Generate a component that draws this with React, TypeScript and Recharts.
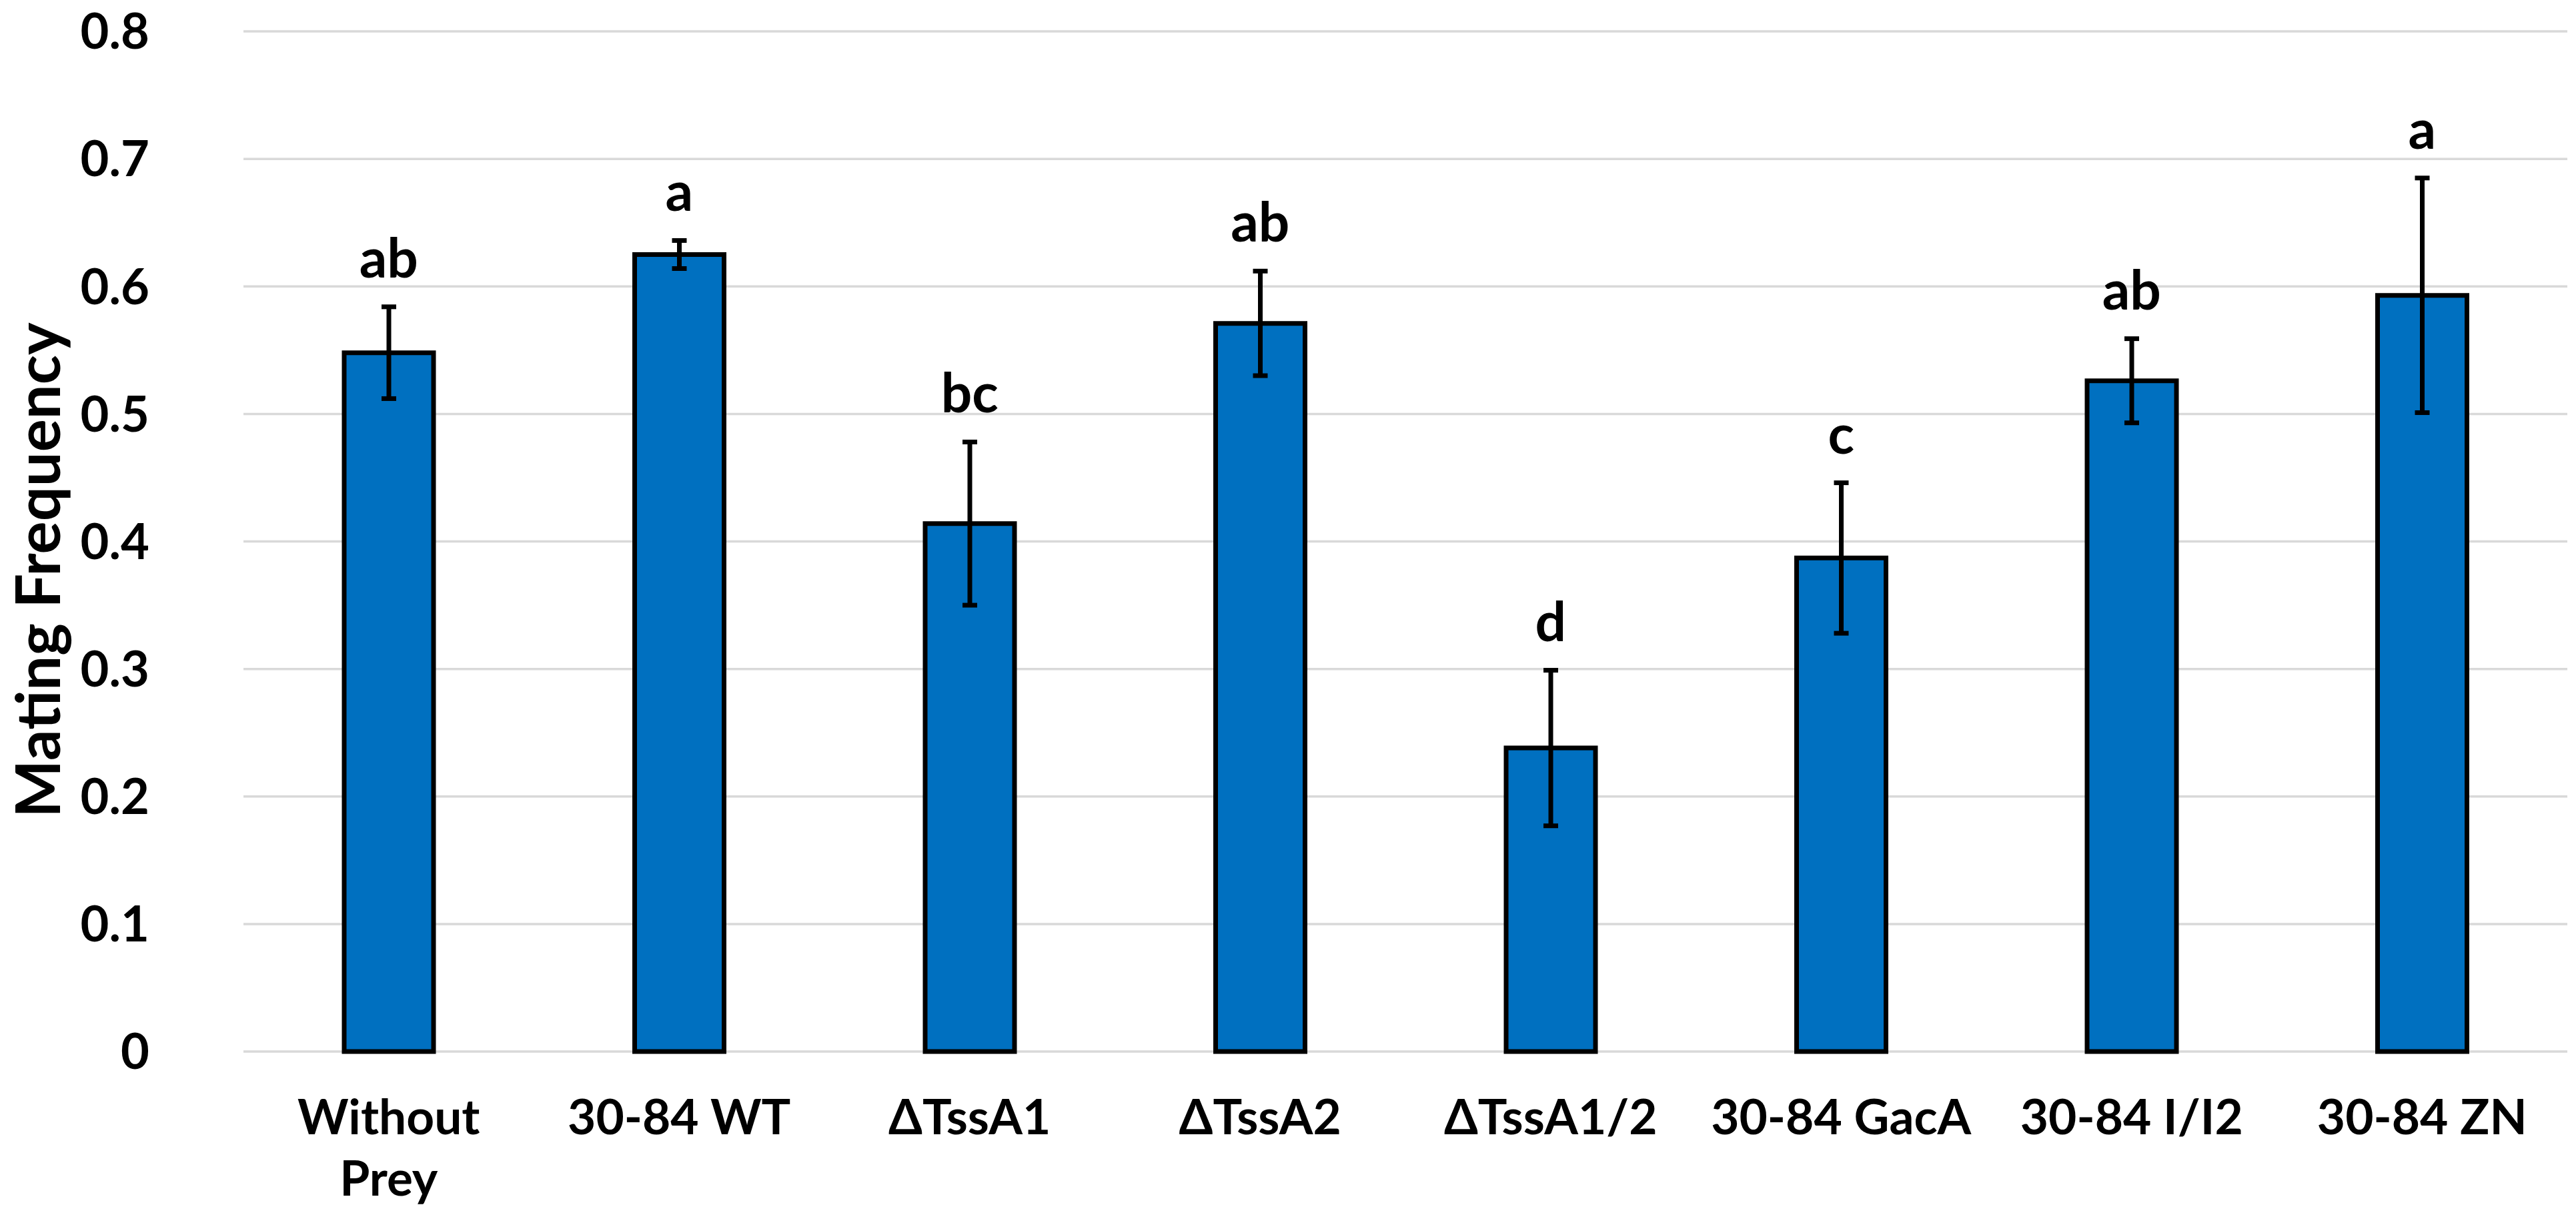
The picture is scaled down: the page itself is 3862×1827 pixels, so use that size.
import React from 'react';
import {
  ComposedChart, Bar, Line, XAxis, YAxis, CartesianGrid,
  ErrorBar, LabelList, Label,
} from 'recharts';

// ─── Data ─────────────────────────────────────────────────────────────────────

const categories = [
  'Without Prey', '30-84 WT', 'ΔTssA1', 'ΔTssA2',
  'ΔTssA1/2', '30-84 GacA', '30-84 I/I2', '30-84 ZN',
];
const tickLines = [
  ['Without', 'Prey'], ['30-84 WT'], ['ΔTssA1'], ['ΔTssA2'],
  ['ΔTssA1/2'], ['30-84 GacA'], ['30-84 I/I2'], ['30-84 ZN'],
];
const means = [0.548, 0.625, 0.414, 0.571, 0.238, 0.387, 0.526, 0.593];
const errors = [0.036, 0.011, 0.064, 0.041, 0.061, 0.059, 0.033, 0.092];
const letters = ['ab', 'a', 'bc', 'ab', 'd', 'c', 'ab', 'a'];
const yTicks = [0, 0.1, 0.2, 0.3, 0.4, 0.5, 0.6, 0.7, 0.8];

const data = categories.map((name, i) => ({
  name,
  mean: means[i],
  err: errors[i],
  top: means[i] + errors[i],
  letter: letters[i],
}));

const FONT = 'Lato, "Open Sans", sans-serif';

// ─── Ticks & labels ───────────────────────────────────────────────────────────

function CategoryTick({ x, y, index }: { x?: number; y?: number; index?: number }) {
  const lines = tickLines[index ?? 0] ?? [];
  return (
    <text x={x} y={(y ?? 0) + 124} textAnchor="middle" fontFamily={FONT}
      fontWeight={700} fontSize={73} fill="#000">
      {lines.map((l, i) => (
        <tspan key={i} x={x} dy={i === 0 ? 0 : 92}>{l}</tspan>
      ))}
    </text>
  );
}

function LetterLabel(props: any) {
  const { x, y, value } = props;
  return (
    <text x={x} y={y - 44} textAnchor="middle" fontFamily={FONT}
      fontWeight={700} fontSize={82} fill="#000">
      {value}
    </text>
  );
}

function YTitle(props: any) {
  const vb = props.viewBox ?? { x: 0, y: 0, height: 0 };
  const cy = vb.y + vb.height / 2 + 43;
  return (
    <text transform={`translate(90, ${cy}) rotate(-90)`} textAnchor="middle"
      fontFamily={FONT} fontWeight={700} fontSize={92} fill="#000">
      Mating Frequency
    </text>
  );
}

// ─── Chart ────────────────────────────────────────────────────────────────────

export default function App() {
  return (
    <div style={{ position: 'absolute', left: 0, top: 0, width: 3862, height: 1827, background: '#fff' }}>
      <ComposedChart
        width={3862}
        height={1827}
        data={data}
        margin={{ top: 47, right: 13, bottom: 0, left: 0 }}
        barCategoryGap={0}
      >
        <CartesianGrid vertical={false} stroke="#d9d9d9" strokeWidth={3.5} />
        <XAxis
          dataKey="name"
          height={251}
          axisLine={false}
          tickLine={false}
          tickSize={0}
          tickMargin={0}
          interval={0}
          tick={<CategoryTick />}
        />
        <YAxis
          width={365}
          domain={[0, 0.8]}
          ticks={yTicks}
          axisLine={false}
          tickLine={false}
          tickSize={0}
          tickMargin={77}
          tickFormatter={(v: number) => (v === 0 ? '0' : v.toFixed(1))}
          tick={{ fontFamily: FONT, fontWeight: 700, fontSize: 74, fill: '#000', dx: -64 }}
        >
          <Label content={<YTitle />} />
        </YAxis>
        <Bar dataKey="mean" barSize={134} fill="#0070C0" stroke="#000"
          strokeWidth={7} isAnimationActive={false}>
          <ErrorBar dataKey="err" direction="y" width={11} stroke="#000" strokeWidth={7} />
        </Bar>
        <Line dataKey="top" stroke="none" dot={false} activeDot={false}
          isAnimationActive={false} legendType="none">
          <LabelList dataKey="letter" content={<LetterLabel />} />
        </Line>
      </ComposedChart>
    </div>
  );
}
